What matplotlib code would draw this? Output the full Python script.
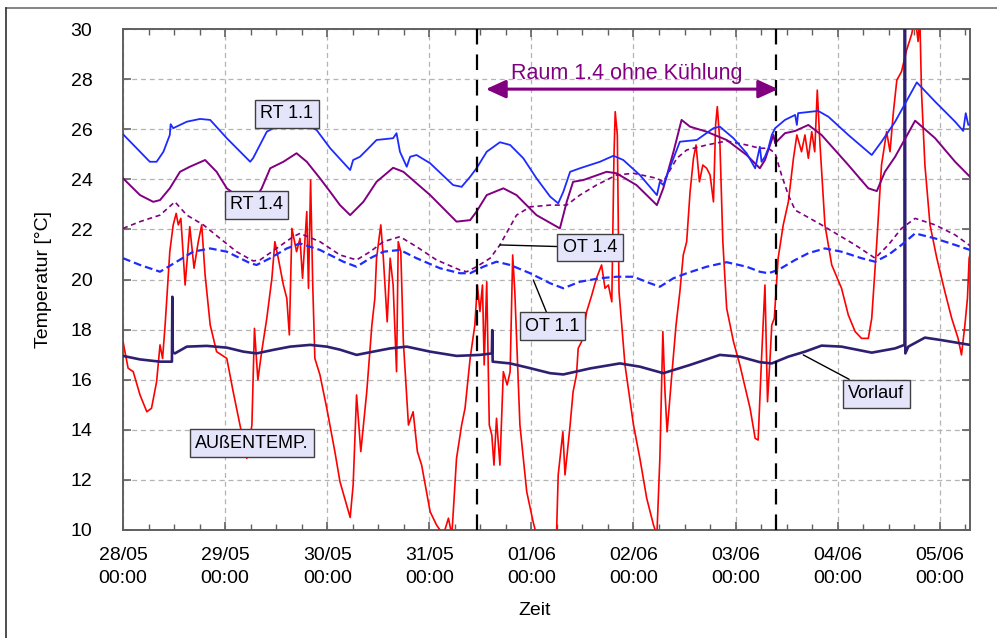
import matplotlib
matplotlib.use("Agg")
import matplotlib.pyplot as plt
from matplotlib.lines import Line2D

plt.rcParams['font.family'] = ['Liberation Sans', 'DejaVu Sans']

# ---- data (time in hours since 28/05 00:00, temperature in °C) ----
rt11_h = [0, 6.3, 7.9, 9.5, 11.0, 11.2, 11.8, 15.0, 18.1, 20.5, 24.4, 29.9, 30.6, 33.8, 39.3, 45.5,
          48.7, 53.4, 54.1, 55.7, 57.3, 59.6, 63.5, 64.3, 65.1, 66.7, 67.5, 69.0, 72.2, 77.6, 79.6,
          81.6, 83.1, 85.5, 88.6, 91.0, 94.1, 97.2, 100.4, 102.3, 103.5, 105.1, 107.4, 112.1, 115.3,
          117.6, 121.5, 125.5, 126.2, 127.0, 129.4, 130.9, 134.9, 138.8, 140.3, 143.5, 146.6, 148.6,
          149.7, 150.1, 150.9, 151.7, 152.5, 153.3, 155.6, 158.0, 158.4, 158.7, 163.4, 165.8, 170.5,
          176.0, 178.3, 181.5, 186.6, 190.9, 195.6, 197.5, 198.1, 198.7, 199.1]
rt11_t = [25.80, 24.70, 24.70, 25.10, 25.77, 26.20, 26.04, 26.30, 26.41, 26.37, 25.64, 24.70, 24.85,
          25.90, 26.40, 25.97, 25.24, 24.37, 24.77, 24.90, 25.17, 25.57, 25.64, 25.84, 25.10, 24.50,
          24.90, 24.97, 24.64, 23.77, 23.70, 24.10, 24.44, 25.10, 25.48, 25.37, 24.84, 24.04, 23.31,
          23.04, 23.50, 24.30, 24.44, 24.70, 24.94, 24.77, 24.17, 23.37, 23.90, 23.77, 24.84, 25.50,
          25.57, 26.04, 26.10, 25.64, 25.04, 24.44, 25.30, 24.70, 24.90, 25.24, 25.77, 26.04, 26.37,
          26.57, 26.17, 26.64, 26.73, 26.50, 25.77, 24.97, 25.50, 26.30, 27.87, 27.10, 26.30, 25.93,
          26.64, 26.17, 26.20]

rt14_h = [0, 4.0, 7.1, 8.7, 11.0, 13.4, 15.7, 19.3, 22.0, 24.4, 29.5, 30.5, 32.6, 34.6, 37.7, 40.8,
          43.2, 46.3, 48.7, 51.0, 53.4, 56.5, 59.6, 63.5, 65.9, 72.2, 78.4, 81.6, 83.1, 85.5, 89.4,
          92.5, 97.2, 102.7, 104.3, 105.8, 108.2, 113.7, 116.0, 120.7, 125.5, 127.0, 129.4, 131.3,
          133.3, 137.2, 141.9, 146.6, 149.7, 150.9, 152.9, 153.3, 155.6, 158.0, 161.1, 164.2, 170.5,
          175.2, 177.2, 179.1, 181.5, 186.2, 190.9, 195.6, 199.1]
rt14_t = [24.04, 23.37, 23.10, 23.17, 23.64, 24.30, 24.50, 24.77, 24.30, 23.64, 23.00, 23.05, 23.64,
          24.44, 24.70, 25.04, 24.70, 24.04, 23.50, 22.97, 22.57, 23.10, 23.90, 24.46, 24.30, 23.37,
          22.31, 22.37, 22.71, 23.37, 23.64, 23.37, 22.57, 22.04, 23.10, 23.90, 23.97, 24.30, 24.24,
          23.77, 22.97, 23.64, 25.10, 26.37, 26.10, 25.90, 25.57, 24.97, 24.44, 24.77, 25.77, 25.44,
          25.84, 25.93, 26.17, 25.77, 24.57, 23.64, 23.53, 24.30, 24.90, 26.34, 25.64, 24.70, 24.10]

ot14_h = [0, 4.0, 8.7, 12.2, 15.0, 18.9, 22.8, 26.7, 30.6, 32.2, 36.1, 40.0, 41.6, 46.3, 51.0, 54.9,
          58.1, 61.2, 65.1, 69.0, 73.7, 79.2, 80.8, 83.1, 86.3, 88.6, 92.5, 95.7, 100.4, 104.3, 107.4,
          111.3, 116.0, 120.0, 125.5, 127.0, 130.2, 132.5, 137.2, 141.9, 146.6, 149.7, 151.7, 153.3,
          154.8, 156.4, 158.0, 164.2, 172.1, 176.8, 179.9, 183.0, 186.2, 190.9, 195.6, 199.1]
ot14_t = [22.04, 22.31, 22.57, 23.10, 22.57, 22.18, 21.64, 21.11, 20.74, 20.78, 21.24, 21.71, 21.84,
          21.51, 20.98, 20.78, 21.11, 21.51, 21.71, 21.31, 20.78, 20.38, 20.31, 20.51, 20.85, 21.38,
          22.57, 22.90, 22.97, 22.97, 23.37, 23.77, 24.17, 24.24, 24.04, 23.90, 24.84, 25.17, 25.37,
          25.53, 25.37, 25.24, 25.24, 25.04, 24.17, 23.37, 22.77, 22.18, 21.38, 20.85, 21.38, 22.04,
          22.44, 22.18, 21.78, 21.35]

ot11_h = [0, 4.0, 8.7, 12.6, 16.5, 20.5, 24.4, 29.9, 31.4, 34.6, 38.5, 41.6, 46.3, 51.8, 54.9, 58.1,
          61.2, 65.1, 69.0, 74.5, 79.2, 81.6, 84.7, 87.8, 91.0, 95.7, 100.4, 103.5, 107.4, 112.1,
          116.0, 120.0, 123.9, 126.2, 129.4, 132.5, 137.2, 141.9, 146.6, 149.7, 151.7, 154.0, 158.0,
          161.1, 165.0, 168.9, 173.6, 176.8, 179.9, 183.0, 186.2, 190.9, 195.6, 199.1]
ot11_t = [20.85, 20.58, 20.31, 20.71, 21.11, 21.24, 21.11, 20.65, 20.58, 20.85, 21.24, 21.44, 21.18,
          20.71, 20.51, 20.85, 21.11, 21.18, 20.85, 20.45, 20.25, 20.25, 20.51, 20.71, 20.58, 20.25,
          19.85, 19.65, 19.91, 20.05, 20.11, 20.11, 19.85, 19.71, 20.05, 20.25, 20.51, 20.69, 20.51,
          20.31, 20.25, 20.38, 20.78, 21.05, 21.24, 21.11, 20.85, 20.71, 20.98, 21.38, 21.84, 21.64,
          21.38, 21.18]

vl_h = [0, 4.0, 8.7, 11.5, 11.6, 11.7, 12.2, 15.0, 19.7, 24.4, 28.3, 31.4, 35.3, 39.3, 44.0, 47.9,
        51.0, 54.9, 58.8, 62.8, 66.7, 72.2, 78.4, 83.9, 86.7, 86.8, 86.9, 91.0, 95.7, 100.4, 103.5,
        109.8, 116.8, 121.5, 127.0, 133.3, 140.3, 145.0, 149.7, 152.5, 156.4, 160.3, 164.2, 168.9,
        176.0, 181.5, 183.7, 183.8, 183.9, 184.6, 188.5, 192.4, 199.1]
vl_t = [16.95, 16.81, 16.72, 16.72, 19.31, 17.10, 17.05, 17.32, 17.35, 17.28, 17.12, 17.05, 17.19,
        17.32, 17.39, 17.32, 17.20, 16.99, 17.12, 17.25, 17.32, 17.12, 16.95, 16.99, 17.05, 17.98,
        16.72, 16.65, 16.46, 16.26, 16.21, 16.45, 16.65, 16.52, 16.26, 16.59, 16.99, 16.92, 16.70,
        16.65, 16.92, 17.12, 17.36, 17.32, 17.08, 17.25, 17.39, 35.0, 17.05, 17.32, 17.68, 17.58,
        17.39]

at_h = [0, 1.2, 2.4, 4.0, 5.6, 6.7, 7.9, 8.7, 9.3, 9.9, 11.0, 11.8, 12.5, 13.0, 13.6, 14.6, 15.7, 16.7,
        17.7, 18.5, 19.3, 20.5, 22.0, 24.4, 25.9, 27.5, 29.1, 30.3, 30.9, 31.7, 32.6, 33.8, 35.0, 35.7,
        36.5, 37.7, 38.5, 39.1, 39.7, 40.8, 41.6, 42.2, 43.2, 43.6, 44.1, 44.6, 45.1, 46.3, 47.9, 49.8,
        51.0, 53.4, 54.1, 54.9, 55.9, 57.3, 58.5, 59.2, 59.6, 60.6, 61.2, 62.1, 62.8, 63.5, 64.3, 64.7,
        65.3, 65.9, 67.1, 68.2, 69.2, 70.2, 72.2, 73.7, 75.3, 76.5, 77.3, 78.4, 79.6, 80.4, 81.6, 82.7,
        83.3, 83.9, 84.5, 84.9, 85.5, 86.1, 86.7, 87.2, 87.8, 88.6, 89.4, 90.3, 91.0, 91.6, 92.1, 93.3,
        94.9, 96.4, 97.2, 101.9, 102.3, 103.4, 103.9, 105.1, 105.8, 106.6, 107.0, 107.8, 109.0, 110.2,
        111.3, 112.5, 113.3, 114.1, 114.9, 115.4, 115.7, 116.2, 116.6, 118.0, 120.0, 121.5, 123.1,
        124.7, 125.5, 126.2, 126.9, 127.4, 127.9, 129.0, 130.0, 130.9, 131.7, 132.5, 133.3, 134.1,
        134.7, 135.5, 136.3, 137.2, 138.0, 138.8, 139.3, 139.7, 140.3, 141.0, 141.9, 143.5, 145.0,
        147.4, 148.6, 149.3, 150.1, 150.9, 151.5, 152.1, 152.5, 153.1, 154.0, 155.2, 156.4, 157.6,
        158.4, 159.5, 160.3, 161.1, 161.9, 162.6, 163.2, 163.8, 165.0, 166.6, 168.9, 170.5, 172.1,
        173.6, 175.2, 176.0, 177.2, 178.3, 179.5, 180.3, 181.1, 181.9, 183.0, 184.2, 185.4, 186.2,
        186.9, 187.3, 187.7, 188.5, 189.7, 191.3, 193.2, 194.8, 196.3, 197.1, 197.9, 198.5, 198.9,
        199.1]
at_t = [17.52, 16.46, 16.32, 15.39, 14.72, 14.86, 15.92, 17.39, 16.85, 18.18, 21.11, 22.18, 22.64,
        22.18, 22.44, 19.78, 22.11, 20.45, 21.51, 22.18, 20.18, 18.18, 17.12, 16.85, 15.52, 14.19,
        12.86, 14.19, 18.05, 15.99, 17.12, 18.45, 20.05, 21.51, 20.85, 19.78, 19.25, 17.79, 22.04,
        21.11, 21.64, 20.05, 22.71, 19.65, 23.97, 19.78, 16.85, 16.19, 14.86, 13.13, 11.93, 10.50,
        11.80, 15.39, 13.13, 15.52, 18.18, 19.25, 20.85, 22.18, 20.85, 18.31, 20.85, 19.78, 16.32,
        21.51, 21.11, 17.52, 14.19, 14.72, 13.13, 12.59, 10.73, 10.20, 9.80, 10.47, 9.80, 12.86, 14.19,
        14.86, 16.85, 18.18, 19.78, 18.72, 19.78, 16.59, 19.91, 14.19, 13.79, 12.59, 14.46, 12.59,
        16.32, 15.79, 16.32, 20.98, 19.51, 14.19, 11.53, 10.33, 9.80, 9.80, 12.20, 13.92, 12.20, 14.19,
        15.52, 16.19, 17.25, 17.52, 18.72, 19.38, 20.05, 20.58, 19.65, 19.78, 19.11, 24.84, 26.70,
        25.77, 19.51, 16.59, 14.19, 12.86, 11.27, 10.20, 9.80, 12.86, 17.92, 15.52, 13.92, 16.19,
        18.18, 19.51, 20.98, 21.51, 23.50, 24.84, 25.37, 23.90, 24.57, 24.44, 24.17, 23.10, 26.17,
        26.90, 25.50, 21.51, 18.85, 17.52, 16.59, 14.86, 13.66, 13.59, 16.85, 19.78, 15.12, 16.85,
        18.18, 18.45, 20.85, 22.18, 23.10, 24.84, 25.77, 25.10, 25.77, 24.84, 25.90, 25.10, 27.56,
        25.50, 22.18, 20.58, 19.65, 18.58, 17.92, 17.65, 17.65, 18.45, 21.51, 24.57, 25.90, 25.10,
        26.70, 27.96, 28.30, 29.16, 29.80, 30.50, 29.50, 30.50, 27.50, 24.57, 22.18, 20.85, 19.51,
        18.45, 17.65, 16.99, 18.18, 19.25, 20.85, 21.00]

xtick_hours = [0, 24, 48, 72, 96, 120, 144, 168, 192]
xtick_labels = ['28/05\n00:00', '29/05\n00:00', '30/05\n00:00', '31/05\n00:00', '01/06\n00:00',
                '02/06\n00:00', '03/06\n00:00', '04/06\n00:00', '05/06\n00:00']
ytick_vals = [10, 12, 14, 16, 18, 20, 22, 24, 26, 28, 30]
period_start, period_end = 83.3, 153.6

# ---- figure ----
fig = plt.figure(figsize=(9.97, 6.38), dpi=100)
ax = fig.add_axes([123/997, 1-530/638, (970-123)/997, (530-29)/638])

ax.grid(True, which='major', color='#b4b4b4', lw=0.9, dashes=(4, 3))
ax.set_axisbelow(True)

ax.plot(at_h, at_t, color='#ff0000', lw=1.2, zorder=3)
ax.plot(vl_h, vl_t, color='#2e1f72', lw=1.9, zorder=4)
ax.plot(ot11_h, ot11_t, color='#1e2bff', lw=1.6, dashes=(3.5, 1.8), zorder=4)
ax.plot(ot14_h, ot14_t, color='#800080', lw=1.2, dashes=(3, 2.2), zorder=4)
ax.plot(rt14_h, rt14_t, color='#800080', lw=1.4, zorder=4)
ax.plot(rt11_h, rt11_t, color='#1e2bff', lw=1.3, zorder=4)

ax.axvline(period_start, color='black', lw=1.6, dashes=(7, 4.5), zorder=5)
ax.axvline(period_end, color='black', lw=1.6, dashes=(7, 4.5), zorder=5)

ax.set_xlim(0, 199.1)
ax.set_ylim(10, 30)
ax.set_xticks(xtick_hours)
ax.set_xticklabels(xtick_labels, linespacing=1.45)
ax.set_xticks(range(0, 200, 6), minor=True)
ax.set_yticks(ytick_vals)

for s in ax.spines.values():
    s.set_color('#606060')
    s.set_linewidth(1.4)
ax.tick_params(which='both', direction='in', top=True, right=True, color='#606060', labelsize=14)
ax.tick_params(which='major', length=6, width=1.2)
ax.tick_params(which='minor', length=4, width=1.0)
ax.tick_params(axis='y', pad=22)
ax.tick_params(axis='x', pad=12)

ax.set_ylabel('Temperatur [°C]', fontsize=14)
ax.yaxis.set_label_coords(-0.084, 0.5)
ax.set_xlabel('Zeit', fontsize=14)
ax.xaxis.set_label_coords(0.486, -0.143)

# annotation boxes
bbox = dict(boxstyle='square,pad=0.3', fc='#e4e4fa', ec='#404040', lw=1.0)
ax.text(38.55, 26.61, 'RT 1.1', fontsize=13, ha='center', va='center', bbox=bbox, zorder=6)
ax.text(31.38, 22.98, 'RT 1.4', fontsize=13, ha='center', va='center', bbox=bbox, zorder=6)
ax.text(30.37, 13.47, 'AUßENTEMP.', fontsize=13, ha='center', va='center', bbox=bbox, zorder=6)
lp = dict(arrowstyle='-', color='black', lw=1.0, shrinkA=0, shrinkB=0)
ax.annotate('OT 1.4', xy=(88.6, 21.38), xytext=(109.77, 21.28), fontsize=13, ha='center',
            va='center', bbox=bbox, arrowprops=lp, zorder=6)
ax.annotate('OT 1.1', xy=(96.45, 19.98), xytext=(100.9, 18.13), fontsize=13, ha='center',
            va='center', bbox=bbox, arrowprops=lp, zorder=6)
ax.annotate('Vorlauf', xy=(159.9, 16.99), xytext=(177.07, 15.44), fontsize=13, ha='center',
            va='center', bbox=bbox, arrowprops=lp, zorder=6)

# period arrow
ax.annotate('', xy=(85.3, 27.6), xytext=(154.0, 27.6),
            arrowprops=dict(arrowstyle='<|-|>,head_length=1.2,head_width=0.55', color='#800080',
                            lw=2.2, shrinkA=0, shrinkB=0), zorder=6)
ax.text(118.5, 28.24, 'Raum 1.4 ohne Kühlung', fontsize=15.5, color='#800080', ha='center',
        va='center', zorder=6)

# outer frame (top and left edges)
fig.add_artist(Line2D([6/997, 1.0], [1-8/638, 1-8/638], color='#707070', lw=1.2))
fig.add_artist(Line2D([6/997, 6/997], [0, 1-8/638], color='#303030', lw=1.2))

fig.savefig('out.png', dpi=100)
